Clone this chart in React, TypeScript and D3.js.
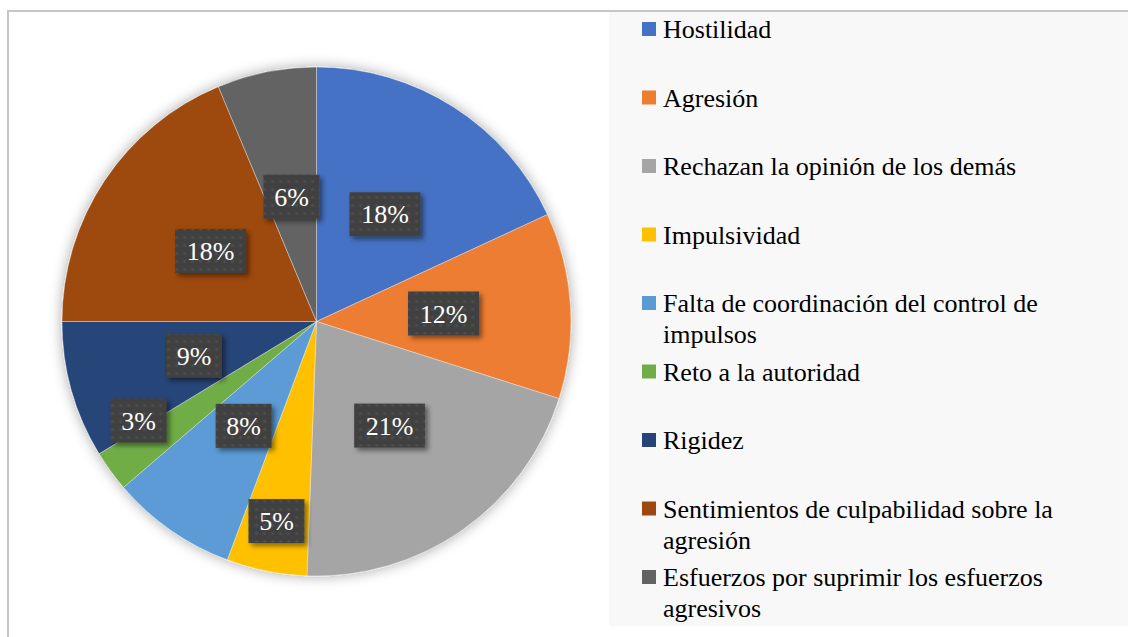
import React from 'react';
import * as d3 from 'd3';

// Chart data
const categories = [
  'Hostilidad',
  'Agresión',
  'Rechazan la opinión de los demás',
  'Impulsividad',
  'Falta de coordinación del control de impulsos',
  'Reto a la autoridad',
  'Rigidez',
  'Sentimientos de culpabilidad sobre la agresión',
  'Esfuerzos por suprimir los esfuerzos agresivos',
];
const values = [18.1, 11.8, 20.7, 5.1, 8.0, 2.6, 8.7, 18.7, 6.3];
const pctLabels = ['18%', '12%', '21%', '5%', '8%', '3%', '9%', '18%', '6%'];
const colors = ['#4472C4', '#ED7D31', '#A5A5A5', '#FFC000', '#5B9BD5', '#70AD47', '#264478', '#9E480E', '#636363'];
// legend lines as wrapped in the original
const legendLines = [
  ['Hostilidad'],
  ['Agresión'],
  ['Rechazan la opinión de los demás'],
  ['Impulsividad'],
  ['Falta de coordinación del control de', 'impulsos'],
  ['Reto a la autoridad'],
  ['Rigidez'],
  ['Sentimientos de culpabilidad sobre la', 'agresión'],
  ['Esfuerzos por suprimir los esfuerzos', 'agresivos'],
];

const W = 1128;
const H = 637;

const cx = 316.5;
const cy = 321.5;
const r = 254.5;

const PieChart = () => {
  const pie = d3.pie<number>().sort(null).value(d => d);
  const arcs = pie(values);
  const arc = d3.arc<d3.PieArcDatum<number>>().innerRadius(0).outerRadius(r);
  const legendY = d3.scaleLinear().domain([0, categories.length - 1]).range([29, 577]);

  return (
    <div style={{ position: 'fixed', left: 0, top: 0, width: W, height: H, fontFamily: "'Liberation Serif'" }}>
      <svg width={W} height={H} fontFamily="Liberation Serif" style={{ display: 'block', fontFamily: "'Liberation Serif'" }}>
        <defs>
          <filter id="pieShadow" x="-20%" y="-20%" width="140%" height="140%">
            <feGaussianBlur in="SourceAlpha" stdDeviation={7} result="blur" />
            <feComponentTransfer in="blur" result="soft">
              <feFuncA type="linear" slope={0.35} />
            </feComponentTransfer>
            <feMerge>
              <feMergeNode in="soft" />
              <feMergeNode in="SourceGraphic" />
            </feMerge>
          </filter>
          <filter id="boxShadow" x="-30%" y="-30%" width="170%" height="170%">
            <feDropShadow dx={3} dy={3} stdDeviation={2.5} floodColor="#000" floodOpacity={0.45} />
          </filter>
          <pattern id="dots" patternUnits="userSpaceOnUse" width={8} height={8}>
            <rect width={8} height={8} fill="#404040" />
            <circle cx={4} cy={4} r={1.6} fill="#4f4f4f" />
          </pattern>
        </defs>

        {/* background and frame */}
        <rect width={W} height={H} fill="#fff" />
        <rect x={8} y={11} width={W + 20} height={H + 20} fill="none" stroke="#c6c6c6" strokeWidth={2} />

        {/* pie */}
        <g transform={`translate(${cx},${cy})`}>
          <g filter="url(#pieShadow)">
            {arcs.map((d, i) => (
              <path key={i} d={arc(d) || ''} fill={colors[i]} stroke="rgba(255,255,255,0.45)" strokeWidth={0.8} />
            ))}
          </g>
          {/* data labels: half radius, small slices pushed outward */}
          {arcs.map((d, i) => {
            const rr = d.value < 6 ? r * 0.8 : r * 0.5;
            const a = (d.startAngle + d.endAngle) / 2 + (d.value < 3 ? 0.12 : 0);
            const x = Math.sin(a) * rr;
            const y = -Math.cos(a) * rr;
            const bw = pctLabels[i].length > 2 ? 71 : 56;
            const bh = 44;
            return (
              <g key={i}>
                <rect x={x - bw / 2} y={y - bh / 2} width={bw} height={bh} fill="url(#dots)" filter="url(#boxShadow)" />
                <text x={x} y={y + 9} textAnchor="middle" fill="#fff" fontSize={26} style={{ fontFamily: "'Liberation Serif'" }}>
                  {pctLabels[i]}
                </text>
              </g>
            );
          })}
        </g>

        {/* legend */}
        <rect x={609} y={12} width={W - 609} height={614} fill="#f8f8f8" />
        <g>
          {categories.map((c, i) => {
            const y = legendY(i);
            return (
              <g key={c}>
                <rect x={642} y={y - 7} width={14} height={14} fill={colors[i]} />
                <text fill="#000" fontSize={26} style={{ fontFamily: "'Liberation Serif'" }}>
                  {legendLines[i].map((line, j) => (
                    <tspan key={j} x={663} y={y + 9 + j * 31}>{line}</tspan>
                  ))}
                </text>
              </g>
            );
          })}
        </g>
      </svg>
    </div>
  );
};

export default function App() {
  return <PieChart />;
}
